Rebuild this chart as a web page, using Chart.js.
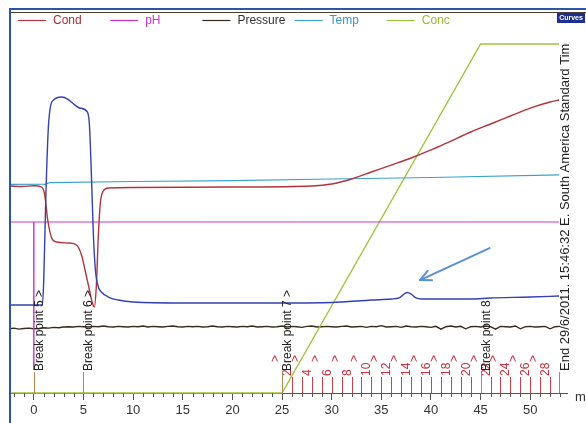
<!DOCTYPE html>
<html lang="en">
<head>
<meta charset="UTF-8">
<title>Run curves</title>
<style>
  body { margin: 0; background: #fff; }
  canvas { display: block; }
</style>
</head>
<body>
<canvas id="myChart" width="586" height="423"></canvas>
<script src="https://cdn.jsdelivr.net/npm/chart.js"></script>
<script>
// all curves are [time (min), value]
const condData = [[-2.4,35.59],[-1.2,35.50],[0,35.63],[0.8,35.41],[1.1,34.04],[1.4,29.74],[1.8,26.65],[2.3,25.96],
  [3.5,25.79],[4.3,25.44],[4.8,23.72],[5.2,20.80],[5.6,17.71],[5.9,15.47],[6.1,14.78],[6.3,18.57],[6.5,27.16],
  [6.7,32.66],[7.0,34.73],[7.5,35.24],[10,35.33],[20,35.41],[28,35.59],[30,35.93],[32,36.79],[34,37.99],[36,39.19],
  [38,40.40],[40,41.78],[42,43.32],[44,44.87],[46,46.25],[48,47.62],[50,48.99],[52,50.03],[52.9,50.37]];
const phData = [[-2.4,6.86],[0,6.86],[0,0.92],[0,6.86],[52.9,6.86]];
const tempData = [[-2.4,23.90],[1.2,23.95],[1.6,24.12],[10,24.24],[20,24.35],[30,24.53],[40,24.70],[52.9,24.99]];
const concData = [[-2.4,0],[25,0],[45,100],[52.9,100]];
const uvData = [[-2.4,756],[0.85,756],[1.0,971],[1.2,1659],[1.45,2261],[1.65,2450],[2.0,2519],[2.8,2544],[3.4,2527],
  [4.0,2484],[4.6,2450],[5.4,2415],[5.6,2304],[5.8,1874],[6.0,1358],[6.2,1057],[6.5,911],[6.8,868],[7.5,825],
  [8.5,799],[10,782],[15,774],[20,774],[25,774],[30,778],[34,799],[36,808],[36.8,817],[37.3,851],[37.6,864],
  [38.0,851],[38.5,817],[39,808],[44,808],[46,817],[50,825],[52.9,834]];
// pressure logged every 0.5 min from -2.5 min
const presStart = -2.5, presStep = 0.5;
const presValues = [0.092,0.093,0.0915,0.0925,0.093,0.092,0.0925,0.0935,0.093,0.094,0.0935,
  0.0945,0.095,0.0945,0.0955,0.095,0.0945,0.0955,0.095,0.096,0.095,0.0945,0.0955,0.095,0.0945,0.0955,
  0.095,0.096,0.0945,0.0955,0.095,0.0945,0.0955,0.096,0.095,0.0945,0.0955,0.095,0.0955,0.0945,0.095,0.096,0.095,0.0945,0.0955,0.095,
  0.0945,0.0955,0.095,0.096,0.0945,0.095,0.0955,0.0945,0.095,0.096,0.0945,0.0955,0.095,0.094,0.0955,0.096,0.0945,0.095,0.0955,0.095,
  0.0945,0.0955,0.096,0.0945,0.095,0.0955,0.094,0.0955,0.095,0.0965,0.0945,0.095,0.0955,0.094,0.096,0.095,0.0945,0.0955,0.095,0.094,
  0.0955,0.0915,0.095,0.096,0.0945,0.0955,0.092,0.095,0.0955,0.0945,0.096,0.095,0.0915,0.0955,0.095,0.0945,0.096,0.092,0.095,0.0955,
  0.0945,0.095,0.0955,0.092,0.095,0.0955];

// run events
const breakTimes = [0, 5, 25, 45];
const breakLabels = ['Break point 5 >', 'Break point 6 >', 'Break point 7 >', 'Break point 8'];
const endTime = 52.9;
const endLabel = 'End 29/6/2011. 15:46:32 E. South America Standard Time';
const fractionTimes = [26,27,28,29,30,31,32,33,34,35,36,37,38,39,40,41,42,43,44,46,47,48,49,50,51,52];
const fractionNums = [2,4,6,8,10,12,14,16,18,20,22,24,26,28];
const fractionNumTimes = [25,27,29,31,33,35,37,39,41,43,45,47,49,51];
const xTicks = { min: -2.4, max: 53.7, step: 5 };
const xUnit = 'min';

const FONT = '"Liberation Sans", Arial, sans-serif';
const xy = arr => arr.map(p => ({ x: p[0], y: p[1] }));
const presData = presValues.map((v, i) => ({ x: presStart + i * presStep, y: v }));

function vText(ctx, str, x, y, color, size) {
  ctx.save();
  ctx.translate(x, y);
  ctx.rotate(-Math.PI / 2);
  ctx.font = size + 'px ' + FONT;
  ctx.fillStyle = color;
  ctx.textAlign = 'left';
  ctx.textBaseline = 'top';
  ctx.fillText(str, 0, 0);
  ctx.restore();
}

function seg(ctx, x1, y1, x2, y2) {
  ctx.beginPath();
  ctx.moveTo(x1, y1);
  ctx.lineTo(x2, y2);
  ctx.stroke();
}

const overlay = {
  id: 'overlay',
  afterDraw(chart) {
    const ctx = chart.ctx, a = chart.chartArea, xs = chart.scales.x;
    const px = t => Math.round(xs.getPixelForValue(t)) + 0.5;
    ctx.save();

    // frame
    ctx.strokeStyle = '#2c55a8'; ctx.lineWidth = 2;
    seg(ctx, 9, 9, 586, 9);
    seg(ctx, 10, 8, 10, 423);
    ctx.strokeStyle = '#4a3a30'; ctx.lineWidth = 1;
    seg(ctx, 11, 12.5, 586, 12.5);

    // Curves badge
    ctx.fillStyle = '#1c2f92';
    ctx.fillRect(557, 13, 28, 10);
    ctx.fillStyle = '#fff';
    ctx.font = 'bold 7px ' + FONT;
    ctx.textAlign = 'center'; ctx.textBaseline = 'middle';
    ctx.fillText('Curves', 571, 18.5);

    // legend in fixed columns
    let col = 0;
    chart.data.datasets.forEach(ds => {
      if (!ds.inLegend) return;
      const x0 = 18 + col * 92.2;
      ctx.strokeStyle = ds.borderColor; ctx.lineWidth = 1.2;
      seg(ctx, x0, 20.5, x0 + 28, 20.5);
      ctx.fillStyle = ds.legendColor || ds.borderColor;
      ctx.font = '12px ' + FONT;
      ctx.textAlign = 'left'; ctx.textBaseline = 'middle';
      ctx.fillText(ds.label, x0 + 35, 21);
      col++;
    });

    // minor x ticks
    ctx.strokeStyle = '#555'; ctx.lineWidth = 1;
    for (let t = Math.ceil(xTicks.min); t <= xTicks.max; t++) {
      if (t % xTicks.step === 0) continue;
      seg(ctx, px(t), a.bottom, px(t), a.bottom + 4);
    }
    ctx.fillStyle = '#333';
    ctx.font = '13px ' + FONT;
    ctx.textAlign = 'left'; ctx.textBaseline = 'middle';
    ctx.fillText(xUnit, 575, a.bottom + 4);

    // fraction marks
    ctx.strokeStyle = '#d0404a'; ctx.lineWidth = 1;
    fractionTimes.forEach(t => seg(ctx, px(t), a.bottom - 16, px(t), a.bottom));
    fractionNums.forEach((n, i) => {
      const x = px(fractionNumTimes[i]);
      vText(ctx, String(n), x - 1, a.bottom - 17, '#cc2e3c', 12);
      vText(ctx, '>', x - 13, a.bottom - 31, '#cc2e3c', 12);
    });

    // break points
    ctx.strokeStyle = '#bb8550'; ctx.lineWidth = 1;
    breakTimes.forEach((t, i) => {
      seg(ctx, px(t), a.bottom - 21, px(t), a.bottom);
      vText(ctx, breakLabels[i], px(t) - 1, a.bottom - 22, '#222', 12);
    });
    seg(ctx, px(endTime), a.bottom - 21, px(endTime), a.bottom);
    ctx.save();
    ctx.beginPath();
    ctx.rect(a.left, a.top - 1, 586, a.bottom);
    ctx.clip();
    vText(ctx, endLabel, px(endTime) - 1, a.bottom - 22, '#222', 13);
    ctx.restore();

    // arrow pointing at the small peak
    const yu = chart.scales.yUV;
    const x1 = xs.getPixelForValue(45.9), y1 = yu.getPixelForValue(1246);
    const x2 = xs.getPixelForValue(38.9), y2 = yu.getPixelForValue(971);
    const ang = Math.atan2(y2 - y1, x2 - x1);
    ctx.strokeStyle = '#5b8fd6'; ctx.lineWidth = 2; ctx.lineCap = 'round';
    seg(ctx, x1, y1, x2, y2);
    [-0.45, 0.45].forEach(d => {
      seg(ctx, x2, y2, x2 - 12 * Math.cos(ang + d), y2 - 12 * Math.sin(ang + d));
    });

    ctx.restore();
  }
};

const hidden = (min, max) => ({ type: 'linear', display: false, min: min, max: max });

new Chart(document.getElementById('myChart'), {
  type: 'line',
  data: {
    datasets: [
      { label: 'Cond', data: xy(condData), yAxisID: 'yCond', borderColor: '#b3343c', legendColor: '#a8303a',
        borderWidth: 1.4, cubicInterpolationMode: 'monotone', inLegend: true, order: 2 },
      { label: 'pH', data: xy(phData), yAxisID: 'yPH', borderColor: '#cc33cc',
        borderWidth: 1, tension: 0, inLegend: true, order: 4 },
      { label: 'Pressure', data: presData, yAxisID: 'yPres', borderColor: '#3a2a1c', legendColor: '#333',
        borderWidth: 1.4, tension: 0, inLegend: true, order: 6 },
      { label: 'Temp', data: xy(tempData), yAxisID: 'yTemp', borderColor: '#3aa2cc', legendColor: '#3797c8',
        borderWidth: 1.2, tension: 0, inLegend: true, order: 3 },
      { label: 'Conc', data: xy(concData), yAxisID: 'yConc', borderColor: '#9dc43a', legendColor: '#9bb83a',
        borderWidth: 1.3, tension: 0, inLegend: true, order: 5 },
      { label: 'UV', data: xy(uvData), yAxisID: 'yUV', borderColor: '#3342b0',
        borderWidth: 1.4, cubicInterpolationMode: 'monotone', inLegend: false, order: 1 }
    ]
  },
  options: {
    responsive: false,
    devicePixelRatio: 1,
    animation: false,
    events: [],
    datasets: { line: { pointRadius: 0, fill: false, clip: 3 } },
    layout: { padding: { left: 10, right: 19, top: 44, bottom: 0 } },
    plugins: { legend: { display: false }, tooltip: { enabled: false } },
    scales: {
      x: {
        type: 'linear', position: 'bottom', min: xTicks.min, max: xTicks.max,
        afterFit: s => { s.height = 30; },
        ticks: { stepSize: xTicks.step, includeBounds: false, color: '#333', padding: 3,
          font: { family: FONT, size: 13 } },
        grid: { display: true, drawOnChartArea: false, drawTicks: true, tickLength: 7, color: '#555' },
        border: { display: true, color: '#555', width: 1 }
      },
      yCond: hidden(0, 60),
      yPH: hidden(0, 14),
      yPres: hidden(0, 0.5),
      yTemp: hidden(0, 40),
      yConc: hidden(0, 100),
      yUV: hidden(0, 3000)
    }
  },
  plugins: [overlay]
});
</script>
</body>
</html>
